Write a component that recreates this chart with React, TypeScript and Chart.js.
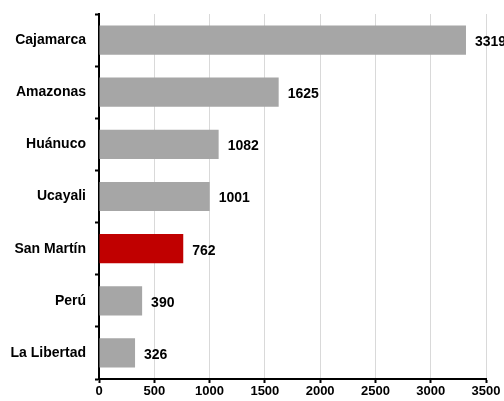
import React, { useEffect, useRef } from "react";
import { Chart, registerables } from "chart.js";

Chart.register(...registerables);

const categories = ["Cajamarca", "Amazonas", "Huánuco", "Ucayali", "San Martín", "Perú", "La Libertad"];
const values = [3319, 1625, 1082, 1001, 762, 390, 326];
const barColors = ["#a6a6a6", "#a6a6a6", "#a6a6a6", "#a6a6a6", "#c00000", "#a6a6a6", "#a6a6a6"];
const xMin = 0;
const xMax = 3500;
const xStep = 500;

const FONT = "'Liberation Sans', Arial, sans-serif";

const labelPlugin = {
  id: "barLabels",
  afterDatasetsDraw(chart: any) {
    const ctx = chart.ctx;
    const meta = chart.getDatasetMeta(0);
    ctx.save();
    ctx.font = `bold 14px ${FONT}`;
    ctx.fillStyle = "#000000";
    ctx.textAlign = "left";
    ctx.textBaseline = "middle";
    meta.data.forEach((bar: any, i: number) => {
      ctx.fillText(String(values[i]), bar.x + 9, bar.y + 2);
    });
    ctx.restore();
  },
};

export default function App() {
  const ref = useRef<HTMLCanvasElement>(null);
  useEffect(() => {
    document.body.style.margin = "0";
    const chart = new Chart(ref.current!, {
      type: "bar",
      data: {
        labels: categories,
        datasets: [
          {
            data: values,
            backgroundColor: barColors,
            borderWidth: 0,
            barPercentage: 0.56,
            categoryPercentage: 1,
          },
        ],
      },
      options: {
        indexAxis: "y",
        animation: false,
        responsive: false,
        maintainAspectRatio: false,
        layout: { padding: { left: 0, right: 18, top: 14, bottom: 0 } },
        plugins: { legend: { display: false }, tooltip: { enabled: false } },
        scales: {
          x: {
            min: xMin,
            max: xMax,
            ticks: {
              stepSize: xStep,
              color: "#000",
              font: { family: FONT, size: 13, weight: "bold" },
              padding: 1,
              maxRotation: 0,
              callback: (v: any) => String(v),
            },
            grid: { color: "#d9d9d9", lineWidth: 1, tickColor: "#000", tickLength: 4, tickWidth: 2 },
            border: { color: "#000", width: 2 },
            afterFit(scale: any) {
              scale.height = 22;
            },
          },
          y: {
            ticks: { color: "#000", font: { family: FONT, size: 14, weight: "bold" }, padding: 9 },
            grid: { drawOnChartArea: false, tickColor: "#000", tickLength: 4, tickWidth: 2, offset: true },
            border: { color: "#000", width: 2 },
            afterFit(scale: any) {
              scale.width = 99;
              scale.paddingTop = 0;
              scale.paddingBottom = 0;
            },
          },
        },
      },
      plugins: [labelPlugin],
    });
    return () => chart.destroy();
  }, []);
  return <canvas ref={ref} width={504} height={401} style={{ display: "block" }} />;
}
